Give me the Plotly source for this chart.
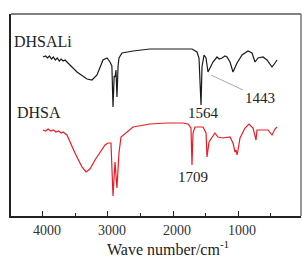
import plotly.graph_objects as go

# DHSALi (black) - wavenumber (cm-1) and relative transmittance (offset, a.u.)
dhsali_wn = [4000, 3960, 3930, 3900, 3870, 3840, 3810, 3780, 3750, 3720, 3690, 3660, 3631,
             3477, 3323, 3246, 3169, 3123, 3077, 3015, 2969, 2940, 2923, 2905, 2892, 2877, 2862,
             2845, 2831, 2785, 2615, 2354, 2092, 1846, 1708, 1631, 1600, 1569, 1554, 1523, 1492,
             1462, 1431, 1385, 1323, 1290, 1246, 1200, 1169, 1123, 1077, 1015, 938, 846, 785,
             738, 692, 615, 554, 477, 431, 400]
dhsali_t = [159, 160, 158, 160, 157, 159, 156, 158, 155, 157, 155, 156, 154,
            144, 137, 136, 141, 149, 156, 158, 154, 150, 109, 140, 139, 146, 119,
            150, 158, 163, 165, 167, 167, 167, 167, 164, 158, 111, 149, 161, 158,
            144, 148, 154, 159, 157, 158, 160, 159, 154, 144, 153, 161, 165, 163,
            154, 158, 159, 156, 149, 153, 156]

# DHSA (red)
dhsa_wn = [4000, 3960, 3920, 3880, 3840, 3800, 3760, 3720, 3692, 3631, 3508, 3400, 3338,
           3277, 3200, 3123, 3046, 3000, 2954, 2923, 2908, 2892, 2862, 2831, 2800, 2708,
           2615, 2354, 2092, 1846, 1769, 1723, 1708, 1692, 1662, 1585, 1538, 1492, 1477,
           1446, 1400, 1354, 1308, 1231, 1123, 1077, 1060, 1046, 1030, 1015, 1000, 969,
           892, 831, 769, 723, 708, 615, 538, 477, 431, 400]
dhsa_t = [86, 85, 87, 85, 86, 84, 85, 83, 84, 81, 63, 49, 44,
          47, 56, 64, 71, 73, 73, 20, 43, 54, 28, 63, 79, 84,
          89, 92, 93, 93, 92, 88, 51, 83, 89, 89, 89, 83, 59,
          74, 78, 83, 79, 78, 79, 73, 68, 64, 66, 61, 66, 78,
          88, 92, 88, 76, 86, 86, 86, 81, 87, 89]

tick_vals = [4000, 3000, 2000, 1000]
tick_text = ["4000", "3000", "2000", "1000"]

serif = "Liberation Serif, Times New Roman, serif"

fig = go.Figure()
fig.add_trace(go.Scatter(x=dhsali_wn, y=dhsali_t, mode="lines",
                         line=dict(color="#1a1a1a", width=1.2), showlegend=False))
fig.add_trace(go.Scatter(x=dhsa_wn, y=dhsa_t, mode="lines",
                         line=dict(color="#ec1c24", width=1.2), showlegend=False))

fig.update_layout(
    width=302, height=257,
    margin=dict(l=11, r=1, t=14, b=41),
    paper_bgcolor="white", plot_bgcolor="white",
    font=dict(family=serif, color="#222", size=14),
    xaxis=dict(range=[4492, 31], tickvals=tick_vals, ticktext=tick_text,
               ticks="inside", ticklen=5, tickwidth=1.2, tickcolor="#222",
               minor=dict(ticks="inside", ticklen=3, dtick=500, tick0=0, tickcolor="#222"),
               showline=True, linecolor="#222", linewidth=2, showgrid=False,
               zeroline=False, ticklabelshift=-4,
               tickfont=dict(family=serif, size=14, color="#333")),
    yaxis=dict(range=[0, 202], showticklabels=False, ticks="", showgrid=False,
               zeroline=False, showline=True, linecolor="#222", linewidth=2),
)

# top and right frame lines
fig.add_shape(type="line", xref="paper", yref="paper", x0=0, x1=1, y0=1, y1=1,
              line=dict(color="#555", width=1.5))
fig.add_shape(type="line", xref="paper", yref="paper", x0=1, x1=1, y0=0, y1=1,
              line=dict(color="#777", width=1.5))

# pointer line for 1443
fig.add_shape(type="line", xref="x", yref="y", x0=1415, y0=141, x1=923, y1=126,
              line=dict(color="#aaa", width=1))

ann = [
    dict(text="DHSALi", xref="paper", yref="paper", x=0.0034, y=0.864, xanchor="left", yanchor="middle", size=16),
    dict(text="DHSA", xref="paper", yref="paper", x=0.0138, y=0.51, xanchor="left", yanchor="middle", size=16),
    dict(text="1564", xref="x", yref="y", x=1538, y=103, xanchor="center", yanchor="middle", size=15),
    dict(text="1443", xref="x", yref="y", x=662, y=118, xanchor="center", yanchor="middle", size=15),
    dict(text="1709", xref="x", yref="y", x=1700, y=39, xanchor="center", yanchor="middle", size=15),
    dict(text="Wave number/cm<sup>-1</sup>", xref="paper", yref="paper", x=0.54, y=-0.158,
         xanchor="center", yanchor="middle", size=16),
    dict(text="0", xref="paper", yref="paper", x=(303 - 11 + 4) / 290, y=-0.064,
         xanchor="center", yanchor="middle", size=14),
]
for a in ann:
    fig.add_annotation(text=a["text"], xref=a["xref"], yref=a["yref"], x=a["x"], y=a["y"],
                       xanchor=a["xanchor"], yanchor=a["yanchor"], showarrow=False,
                       font=dict(family=serif, size=a["size"], color="#222"))

fig.write_html("out.html", config={"displayModeBar": False},
               post_script="document.body.style.margin='0';document.body.style.overflow='hidden';")
